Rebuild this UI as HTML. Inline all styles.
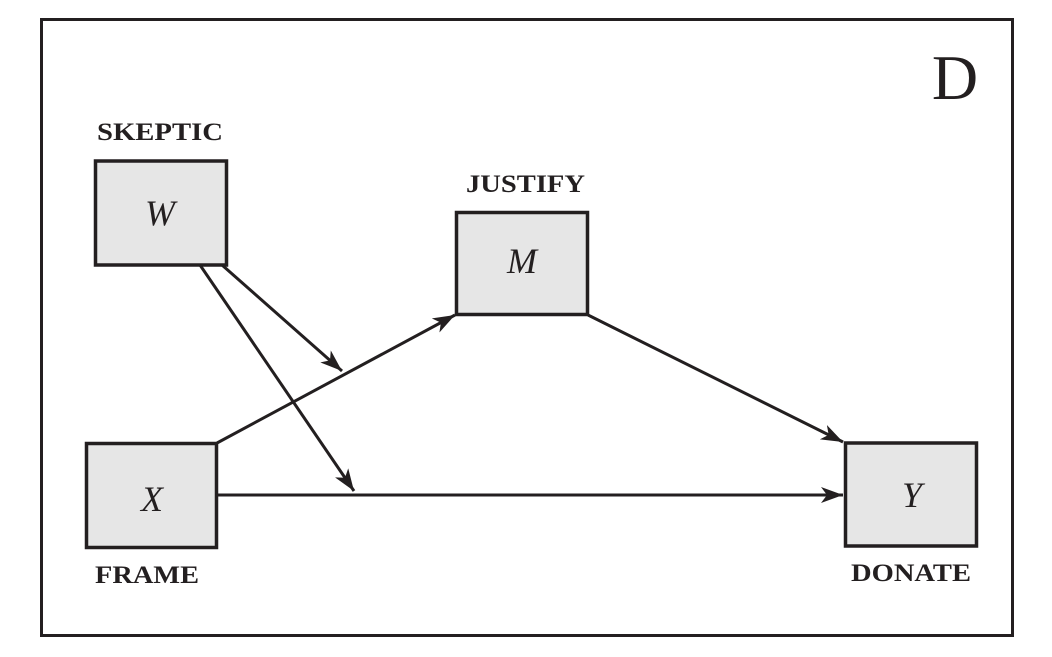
<!DOCTYPE html>
<html><head><meta charset="utf-8"><style>
html,body{margin:0;padding:0;background:#fff;}
svg{display:block}
text{font-family:"Liberation Serif",serif;fill:#231f20}
.lab{font-weight:bold;font-size:25px}
.v{font-style:italic;font-size:36px}
</style></head><body>
<svg width="1052" height="657" viewBox="0 0 1052 657" xmlns="http://www.w3.org/2000/svg">
<defs>
<marker id="a" viewBox="0 0 22 16" refX="22" refY="8" markerWidth="22" markerHeight="16" markerUnits="userSpaceOnUse" orient="auto">
<path d="M0,0 L22,8 L0,16 L6,8 Z" fill="#231f20"/>
</marker>
</defs>
<rect x="41.5" y="19.5" width="971" height="616" fill="none" stroke="#231f20" stroke-width="3"/>
<text x="955" y="99" font-size="64" text-anchor="middle">D</text>
<g stroke="#231f20" stroke-width="3" fill="none">
<line x1="217" y1="443" x2="455" y2="315" marker-end="url(#a)"/>
<line x1="217" y1="495" x2="843" y2="495" marker-end="url(#a)"/>
<line x1="588" y1="315" x2="843" y2="442" marker-end="url(#a)"/>
<line x1="222" y1="265" x2="342" y2="371" marker-end="url(#a)"/>
<line x1="200" y1="265" x2="354" y2="491" marker-end="url(#a)"/>
</g>
<g fill="#e6e6e6" stroke="#231f20" stroke-width="3.5">
<rect x="95.5" y="161" width="131" height="104"/>
<rect x="456.5" y="212.5" width="131" height="102"/>
<rect x="86.5" y="443.5" width="130" height="104"/>
<rect x="845.5" y="443" width="131" height="103"/>
</g>
<text class="v" x="160" y="225" text-anchor="middle">W</text>
<text class="v" x="522" y="273" text-anchor="middle">M</text>
<text class="v" x="152" y="511" text-anchor="middle">X</text>
<text class="v" x="912" y="507" text-anchor="middle">Y</text>
<text class="lab" x="97" y="140" textLength="126" lengthAdjust="spacingAndGlyphs">SKEPTIC</text>
<text class="lab" x="466" y="192" textLength="119" lengthAdjust="spacingAndGlyphs">JUSTIFY</text>
<text class="lab" x="95" y="583" textLength="104" lengthAdjust="spacingAndGlyphs">FRAME</text>
<text class="lab" x="851" y="581" textLength="120" lengthAdjust="spacingAndGlyphs">DONATE</text>
</svg>
</body></html>
